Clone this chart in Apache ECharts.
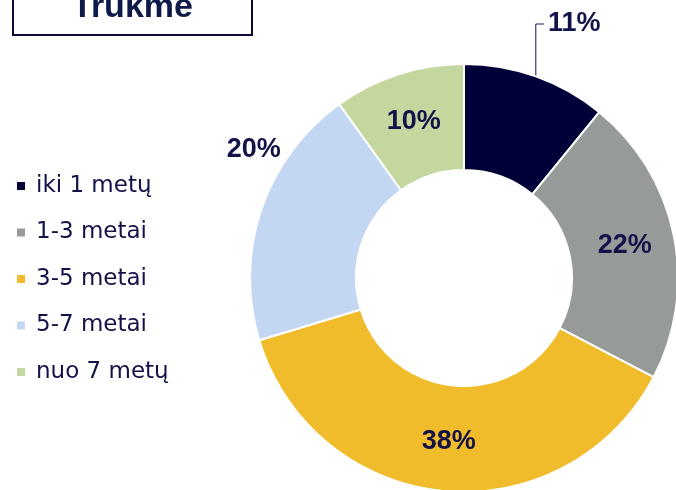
<!DOCTYPE html>
<html>
<head>
<meta charset="utf-8">
<script src="https://cdn.jsdelivr.net/npm/echarts@6/dist/echarts.min.js"></script>
<style>
  html, body { margin: 0; padding: 0; background: #fff; }
  #chart { width: 676px; height: 490px; }
</style>
</head>
<body>
<div id="chart"></div>
<script>
var categories = ['iki 1 metų', '1-3 metai', '3-5 metai', '5-7 metai', 'nuo 7 metų'];
var shares = [11, 22, 38, 20, 10];
var colors = ['#000038', '#969b9a', '#f0bc2c', '#c4d7f2', '#c4d79e'];
var outsideLabels = [0, 3]; // these two slices have their % written outside the ring

var navy = '#13134a';
var boldFont = 'Liberation Sans, Arial, sans-serif';
var legendFont = 'DejaVu Sans, Verdana, sans-serif';

var chart = echarts.init(document.getElementById('chart'));

var data = categories.map(function (name, i) {
    var item = { name: name, value: shares[i], itemStyle: { color: colors[i] } };
    if (outsideLabels.indexOf(i) >= 0) {
        item.label = { position: 'outside' };
        item.labelLine = { show: i === 0, length: 45, length2: 10 };
    }
    return item;
});

chart.setOption({
    animation: false,
    title: {
        text: 'Trukmė',
        left: 13,
        top: -17,
        padding: [8, 59, 10, 59],
        borderColor: '#0b0b3a',
        borderWidth: 2,
        textStyle: {
            color: '#0d1a4a',
            fontSize: 34,
            lineHeight: 34,
            fontWeight: 'bold',
            fontFamily: boldFont
        }
    },
    legend: {
        orient: 'vertical',
        left: 15,
        top: 174,
        padding: 0,
        icon: 'rect',
        itemWidth: 10,
        itemHeight: 10,
        itemGap: 22.5,
        textStyle: {
            color: navy,
            fontSize: 23,
            lineHeight: 24,
            padding: [0, 0, 0, 5],
            fontFamily: legendFont
        },
        data: categories
    },
    series: [{
        type: 'pie',
        center: [464, 278],
        radius: [108, 214],
        startAngle: 90,
        clockwise: true,
        itemStyle: { borderColor: '#fff', borderWidth: 2 },
        label: {
            show: true,
            position: 'inside',
            formatter: '{c}%',
            color: navy,
            fontSize: 27,
            fontWeight: 'bold',
            fontFamily: boldFont
        },
        labelLine: { lineStyle: { color: navy, width: 1 }, smooth: false },
        labelLayout: function (p) {
            if (p.dataIndex === 0) {
                // elbow leader: straight up from the ring, then across to the label
                var dx = -18, dy = -10;
                var r = p.labelRect;
                var start = p.labelLinePoints ? p.labelLinePoints[0] : [r.x, r.y + r.height];
                var midY = r.y + dy + r.height / 2;
                return {
                    dx: dx,
                    dy: dy,
                    labelLinePoints: [start, [start[0], midY], [r.x + dx - 4, midY]]
                };
            }
            if (p.dataIndex === 3) return { dx: 77, dy: -45 };
            return {};
        },
        data: data
    }]
});
</script>
</body>
</html>
